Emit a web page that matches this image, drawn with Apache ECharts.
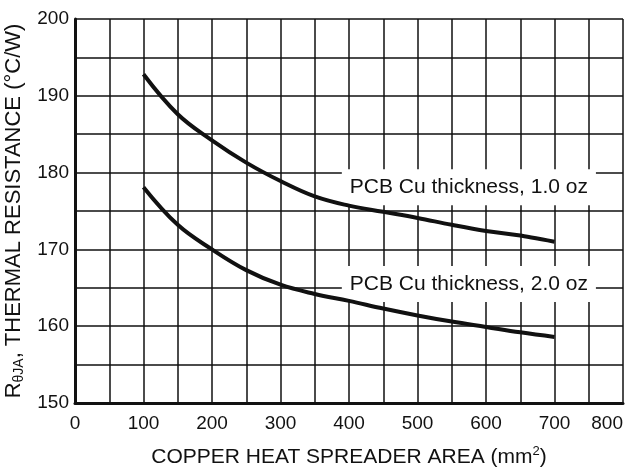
<!DOCTYPE html>
<html>
<head>
<meta charset="utf-8">
<script src="https://cdn.jsdelivr.net/npm/echarts@6/dist/echarts.min.js"></script>
<style>
  html, body { margin: 0; padding: 0; background: #fff; }
  #chart { width: 631px; height: 468px; }
</style>
</head>
<body>
<div id="chart"></div>
<script>
// copper area (mm2)
const area = [100, 150, 200, 250, 300, 350, 400, 450, 500, 550, 600, 650, 700]
// thermal resistance (C/W)
const oz1 = [192.8, 187.6, 184.2, 181.3, 178.9, 176.9, 175.7, 174.9, 174.1, 173.2, 172.4, 171.8, 171.0]
const oz2 = [178.1, 173.2, 170.0, 167.3, 165.4, 164.2, 163.3, 162.3, 161.4, 160.6, 159.9, 159.2, 158.6]
const seriesNames = ['PCB Cu thickness, 1.0 oz', 'PCB Cu thickness, 2.0 oz']
// where each curve's caption sits, in data units
const captionAt = [[575, 178.1], [575, 165.5]]

const font = 'Liberation Sans, Arial, Helvetica, sans-serif'
const ink = '#111'

const myChart = echarts.init(document.getElementById('chart'))

function pairs (ys) {
  return area.map((x, i) => [x, ys[i]])
}

function curve (name, ys) {
  return {
    type: 'line',
    name: name,
    data: pairs(ys),
    smooth: 0.4,
    symbol: 'none',
    lineStyle: { color: ink, width: 4 },
    z: 4
  }
}

// caption box, drawn under the curves but over the grid
function caption (name, at) {
  return {
    type: 'scatter',
    name: name + ' label',
    data: [at],
    symbolSize: 0,
    z: 3,
    silent: true,
    itemStyle: { opacity: 1 },
    label: {
      show: true,
      position: 'inside',
      formatter: name,
      color: ink,
      fontFamily: font,
      fontSize: 21,
      lineHeight: 22,
      backgroundColor: '#fff',
      padding: [7, 8, 7, 8]
    }
  }
}

myChart.setOption({
  animation: false,
  textStyle: { fontFamily: font },
  grid: { left: 75, right: 8, top: 19, bottom: 65, outerBoundsMode: 'none' },
  xAxis: {
    type: 'value',
    min: 0,
    max: 800,
    interval: 100,
    name: '{a|COPPER HEAT SPREADER AREA (mm}{s|2}{a|)}',
    nameLocation: 'middle',
    nameGap: 42,
    nameTextStyle: {
      rich: {
        a: { fontSize: 21, color: ink, fontFamily: font, lineHeight: 24 },
        s: { fontSize: 13, color: ink, fontFamily: font, lineHeight: 24, verticalAlign: 'top' }
      }
    },
    axisLine: { show: true, lineStyle: { color: ink, width: 3 } },
    axisTick: { show: false },
    axisLabel: { color: ink, fontSize: 19, margin: 11, fontFamily: font, alignMaxLabel: 'right' },
    splitLine: { show: true, lineStyle: { color: ink, width: 1.5 } },
    minorTick: { show: false, splitNumber: 2 },
    minorSplitLine: { show: true, lineStyle: { color: ink, width: 1.5 } }
  },
  yAxis: {
    type: 'value',
    min: 150,
    max: 200,
    interval: 10,
    name: '{a|R}{s|θJA}{a|, THERMAL RESISTANCE (°C/W)}',
    nameLocation: 'middle',
    nameRotate: 90,
    nameGap: 35,
    nameTextStyle: {
      rich: {
        a: { fontSize: 22, color: ink, fontFamily: font, lineHeight: 24 },
        s: { fontSize: 14, color: ink, fontFamily: font, lineHeight: 24, verticalAlign: 'bottom' }
      }
    },
    axisLine: { show: true, lineStyle: { color: ink, width: 3 } },
    axisTick: { show: false },
    axisLabel: { color: ink, fontSize: 19, margin: 6, fontFamily: font },
    splitLine: { show: true, lineStyle: { color: ink, width: 1.5 } },
    minorTick: { show: false, splitNumber: 2 },
    minorSplitLine: { show: true, lineStyle: { color: ink, width: 1.5 } }
  },
  series: [
    curve(seriesNames[0], oz1),
    curve(seriesNames[1], oz2),
    caption(seriesNames[0], captionAt[0]),
    caption(seriesNames[1], captionAt[1])
  ]
})
</script>
</body>
</html>
